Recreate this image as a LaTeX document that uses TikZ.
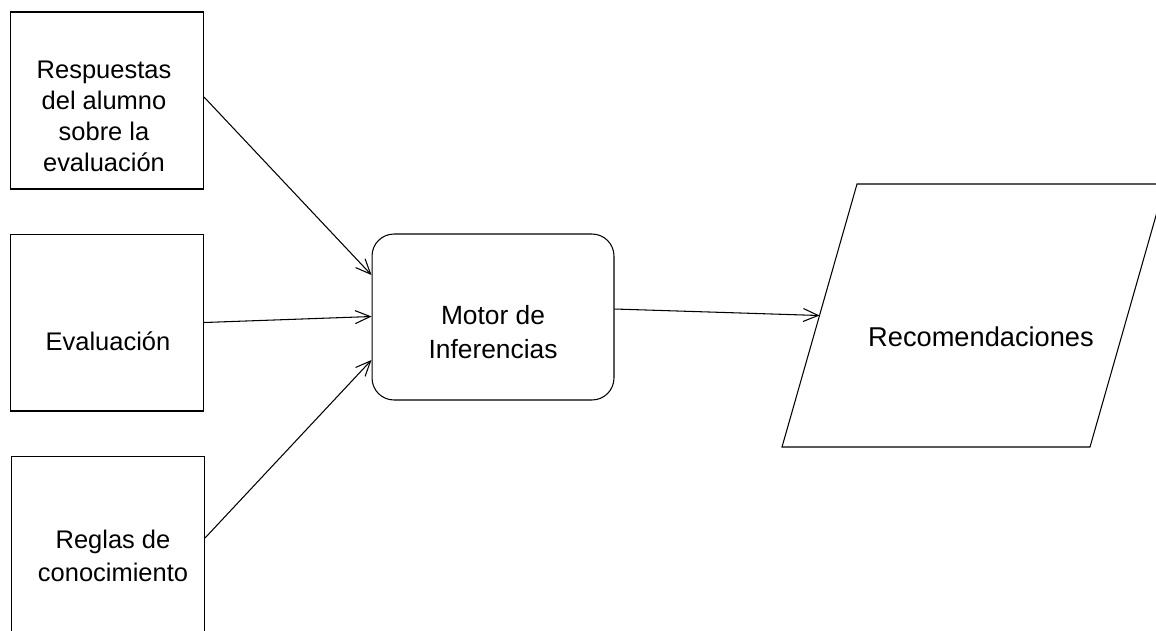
\documentclass[tikz,border=0pt]{standalone}
\usepackage{fontspec}
\setmainfont{Liberation Sans}
\usetikzlibrary{arrows.meta,positioning,calc}

\begin{document}
\begin{tikzpicture}[
    x=0.02cm, y=-0.02cm,
    inputbox/.style={rectangle, draw=black, line width=0.6pt, minimum width=3.86cm, minimum height=3.54cm, inner sep=0pt},
    engine/.style={rectangle, draw=black, rounded corners=0.44cm, line width=0.6pt, minimum width=4.84cm, minimum height=3.32cm, inner sep=0pt},
    boxtext/.style={align=center, inner sep=0pt, font=\fontsize{14.5}{17.6}\selectfont},
    arrow/.style={-{Straight Barb[length=3mm, width=2.6mm]}, line width=0.6pt}
]
    \useasboundingbox (0,0) rectangle (1156,630);
    \clip (0,0) rectangle (1156,630);

    % Left column: inputs
    \node (resp) at (107, 100.5) [inputbox] {};
    \node (eval) at (107, 322.5) [inputbox] {};
    \node (reglas) at (108, 544.5) [inputbox] {};
    \node (resp-txt) at (104, 116) [boxtext] {Respuestas\\del alumno\\sobre la\\evaluación};
    \node (eval-txt) at (108, 341) [boxtext] {Evaluación};
    \node (reglas-txt) at (113, 556) [boxtext, font=\fontsize{14.5}{18.4}\selectfont] {Reglas de\\conocimiento};

    % Middle: inference engine
    \node (motor) at (493, 317) [engine] {};
    \node (motor-txt) at (493, 332) [boxtext, font=\fontsize{15}{19.3}\selectfont] {Motor de\\Inferencias};

    % Right: output (parallelogram)
    \coordinate (rec-tl) at (857, 184);
    \coordinate (rec-tr) at (1165, 184);
    \coordinate (rec-br) at (1090, 447);
    \coordinate (rec-bl) at (782, 447);
    \coordinate (rec-in) at ($(rec-tl)!0.5!(rec-bl)$);
    \draw [line width=0.6pt] (rec-tl) -- (rec-tr) -- (rec-br) -- (rec-bl) -- cycle;
    \node (rec-txt) at (981, 337) [boxtext, font=\fontsize{15.5}{19}\selectfont] {Recomendaciones};

    % 1. Inputs into the engine
    \draw [arrow] ([yshift=0.07cm]resp.east) -- ([yshift=0.84cm]motor.west);
    \draw [arrow] (eval.east) -- ([yshift=0.01cm]motor.west);
    \draw [arrow] ([yshift=0.13cm]reglas.east) -- ([yshift=-0.86cm]motor.west);

    % 2. Engine output
    \draw [arrow] ([yshift=0.16cm]motor.east) -- (rec-in);

\end{tikzpicture}
\end{document}
